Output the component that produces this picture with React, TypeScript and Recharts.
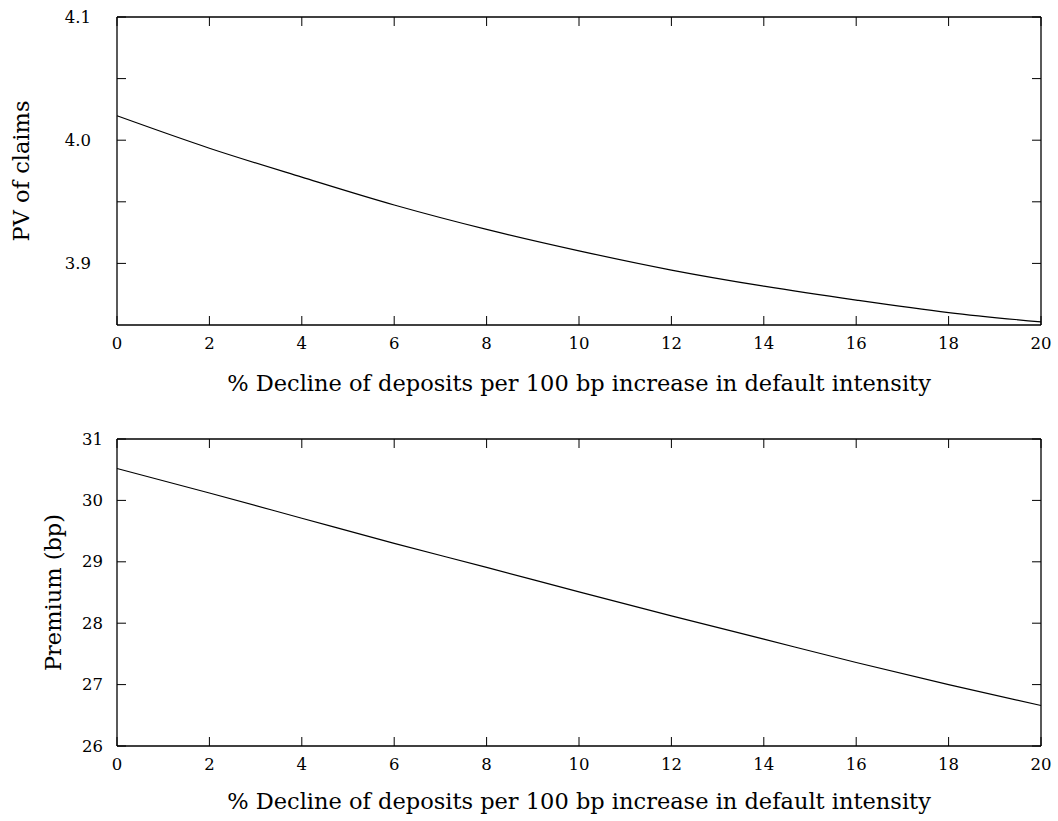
import { Label, Line, LineChart, XAxis, YAxis } from 'recharts';

const xTicks = [0, 2, 4, 6, 8, 10, 12, 14, 16, 18, 20];
const pvClaims = [4.0198, 3.9935, 3.970, 3.9474, 3.9276, 3.9102, 3.8946, 3.8815, 3.8702, 3.8601, 3.8525];
const premium = [30.52, 30.12, 29.71, 29.30, 28.91, 28.51, 28.12, 27.74, 27.36, 27.0, 26.66];
const pvTicks = [3.9, 3.95, 4.0, 4.05, 4.1];
const pvLabels = ['3.9', '4.0', '4.1'];
const premiumTicks = [26, 27, 28, 29, 30, 31];

const xLabel = '% Decline of deposits per 100 bp increase in default intensity';
const FONT = 'DejaVu Serif, Liberation Serif, serif';
const TICK_FS = 16.5;
const LABEL_FS = 22.5;
const TICK_LEN = 9;

const pvData = xTicks.map((x, i) => ({ x, v: pvClaims[i] }));
const premiumData = xTicks.map((x, i) => ({ x, v: premium[i] }));

const axisLine = { stroke: '#000', strokeWidth: 1.3 };

function LeftTick(props: any) {
  const { x, y, payload, labels, gap } = props;
  const text = labels ? labels.find((l: string) => Math.abs(Number(l) - payload.value) < 1e-6) : String(payload.value);
  return (
    <g>
      <line x1={x} x2={x + TICK_LEN} y1={y} y2={y} stroke="#000" strokeWidth={1} />
      {text && (
        <text x={x - gap} y={y} textAnchor="end" dominantBaseline="central" fontFamily={FONT} fontSize={TICK_FS} fill="#000">
          {text}
        </text>
      )}
    </g>
  );
}

function RightTick(props: any) {
  const { x, y } = props;
  return <line x1={x - TICK_LEN} x2={x} y1={y} y2={y} stroke="#000" strokeWidth={1} />;
}

function BottomTick(props: any) {
  const { x, y, payload, gap } = props;
  return (
    <g>
      <line x1={x} x2={x} y1={y} y2={y - TICK_LEN} stroke="#000" strokeWidth={1} />
      <text x={x} y={y + gap} textAnchor="middle" dominantBaseline="central" fontFamily={FONT} fontSize={TICK_FS} fill="#000">
        {payload.value}
      </text>
    </g>
  );
}

function TopTick(props: any) {
  const { x, y } = props;
  return <line x1={x} x2={x} y1={y} y2={y + TICK_LEN} stroke="#000" strokeWidth={1} />;
}

function xAxisLabel(offset: number) {
  return (props: any) => {
    const vb = props.viewBox;
    return (
      <text x={vb.x + vb.width / 2} y={vb.y + offset} textAnchor="middle" dominantBaseline="central" fontFamily={FONT} fontSize={LABEL_FS} fill="#000">
        {xLabel}
      </text>
    );
  };
}

function yAxisLabel(text: string, cx: number) {
  return (props: any) => {
    const vb = props.viewBox;
    const cy = vb.y + vb.height / 2;
    return (
      <text x={cx} y={cy} transform={`rotate(-90 ${cx} ${cy})`} textAnchor="middle" dominantBaseline="central" fontFamily={FONT} fontSize={LABEL_FS} fill="#000">
        {text}
      </text>
    );
  };
}

interface PanelProps {
  data: { x: number; v: number }[];
  height: number;
  top: number;
  bottom: number;
  domain: [number, number];
  yTicks: number[];
  yLabels?: string[];
  yLabel: string;
  yLabelX: number;
  yGap: number;
  xGap: number;
  xLabelOffset: number;
}

// top and right axes only mirror the ticks, so they need 1px of room to be drawn
function Panel({ data, height, top, bottom, domain, yTicks, yLabels, yLabel, yLabelX, yGap, xGap, xLabelOffset }: PanelProps) {
  return (
    <LineChart width={1058} height={height} data={data} margin={{ top: top - 1, right: 16, left: 0, bottom }}>
      <XAxis
        dataKey="x"
        type="number"
        domain={[0, 20]}
        ticks={xTicks}
        interval={0}
        height={60}
        tickSize={0}
        tickMargin={0}
        tickLine={false}
        axisLine={axisLine}
        tick={<BottomTick gap={xGap} />}
      >
        <Label content={xAxisLabel(xLabelOffset)} />
      </XAxis>
      <XAxis
        xAxisId="top"
        orientation="top"
        dataKey="x"
        type="number"
        domain={[0, 20]}
        ticks={xTicks}
        interval={0}
        height={1}
        tickSize={0}
        tickMargin={0}
        tickLine={false}
        axisLine={axisLine}
        tick={<TopTick />}
      />
      <YAxis
        type="number"
        domain={domain}
        ticks={yTicks}
        interval={0}
        width={117}
        tickSize={0}
        tickMargin={0}
        tickLine={false}
        axisLine={axisLine}
        tick={<LeftTick labels={yLabels} gap={yGap} />}
        allowDataOverflow
      >
        <Label content={yAxisLabel(yLabel, yLabelX)} />
      </YAxis>
      <YAxis
        yAxisId="right"
        orientation="right"
        type="number"
        domain={domain}
        ticks={yTicks}
        interval={0}
        width={1}
        tickSize={0}
        tickMargin={0}
        tickLine={false}
        axisLine={axisLine}
        tick={<RightTick />}
        allowDataOverflow
      />
      <Line type="monotone" dataKey="v" stroke="#000" strokeWidth={1.2} dot={false} isAnimationActive={false} />
    </LineChart>
  );
}

export default function App() {
  return (
    <div style={{ position: 'absolute', left: 0, top: 0, width: 1058, height: 821, background: '#fff' }}>
      <Panel
        data={pvData}
        height={410}
        top={17}
        bottom={25}
        domain={[3.85, 4.1]}
        yTicks={pvTicks}
        yLabels={pvLabels}
        yLabel="PV of claims"
        yLabelX={21}
        yGap={26}
        xGap={18}
        xLabelOffset={58}
      />
      <Panel
        data={premiumData}
        height={411}
        top={29}
        bottom={15}
        domain={[26, 31]}
        yTicks={premiumTicks}
        yLabel="Premium (bp)"
        yLabelX={53}
        yGap={14}
        xGap={18}
        xLabelOffset={55}
      />
    </div>
  );
}
